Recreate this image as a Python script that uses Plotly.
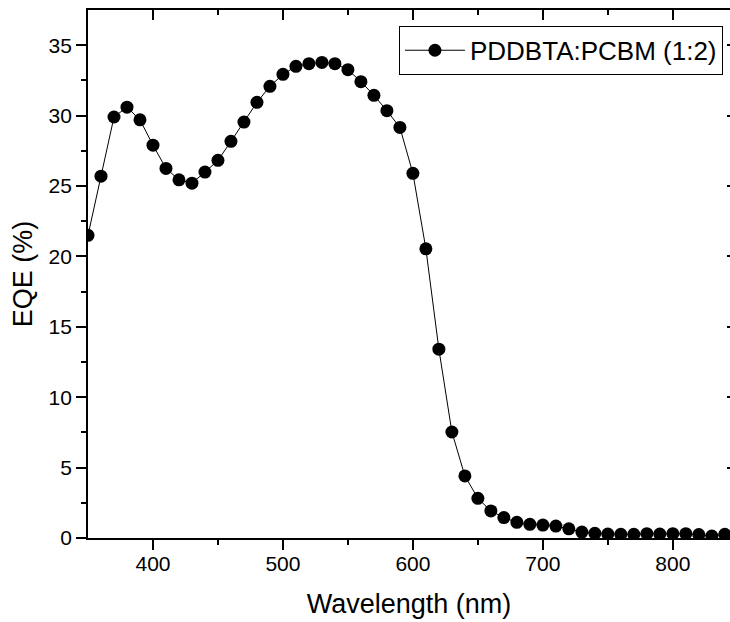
import plotly.graph_objects as go

wavelength = list(range(350, 850, 10))
eqe = [21.5, 25.7, 29.9, 30.6, 29.7, 27.9, 26.25, 25.44, 25.2, 25.99,
       26.82, 28.17, 29.54, 30.94, 32.08, 32.93, 33.5, 33.69, 33.78, 33.69,
       33.26, 32.41, 31.44, 30.35, 29.16, 25.9, 20.54, 13.41, 7.53, 4.41,
       2.82, 1.92, 1.45, 1.11, 0.97, 0.92, 0.85, 0.65, 0.42, 0.33,
       0.28, 0.26, 0.26, 0.31, 0.28, 0.31, 0.31, 0.24, 0.14, 0.26]
series_name = "PDDBTA:PCBM (1:2)"
x_title = "Wavelength (nm)"
y_title = "EQE (%)"
x_major = [400, 500, 600, 700, 800]
x_minor = [450, 550, 650, 750]
y_major = [0, 5, 10, 15, 20, 25, 30, 35]
y_minor = [2.5, 7.5, 12.5, 17.5, 22.5, 27.5, 32.5]

FONT = "Arial, Liberation Sans, sans-serif"

fig = go.Figure()
fig.add_trace(go.Scatter(
    x=wavelength, y=eqe, mode="lines+markers", name=series_name,
    line=dict(color="black", width=1),
    marker=dict(color="black", size=13, symbol="circle"),
))
# invisible trace to carry the mirrored (inside-tick) axes
fig.add_trace(go.Scatter(
    x=wavelength, y=eqe, mode="markers", xaxis="x2", yaxis="y2",
    marker=dict(opacity=0), showlegend=False, hoverinfo="skip",
))

axis_common = dict(showgrid=False, zeroline=False, linecolor="black",
                   linewidth=1.8, tickcolor="black", tickwidth=1.8)
minor_common = dict(ticklen=5, tickcolor="black", tickwidth=1.8)

fig.update_layout(
    width=730, height=622,
    margin=dict(l=88, r=0, t=10, b=84),
    plot_bgcolor="white", paper_bgcolor="white",
    font=dict(family=FONT, color="black"),
    xaxis=dict(range=[350, 844], tickvals=x_major,
               ticks="outside", ticklen=10, showline=True,
               tickfont=dict(size=21), ticklabelstandoff=-4,
               title=dict(text=x_title, font=dict(size=27), standoff=20),
               minor=dict(tickvals=x_minor, ticks="outside", **minor_common),
               **axis_common),
    yaxis=dict(range=[0, 37.5], tickvals=y_major,
               ticks="outside", ticklen=10, showline=True,
               tickfont=dict(size=21),
               title=dict(text=y_title, font=dict(size=27), standoff=8),
               minor=dict(tickvals=y_minor, ticks="outside", **minor_common),
               **axis_common),
    xaxis2=dict(overlaying="x", side="top", matches="x", anchor="y",
                tickvals=x_major, ticks="inside",
                ticklen=10, showticklabels=False, showline=True,
                minor=dict(tickvals=x_minor, ticks="inside", **minor_common),
                **axis_common),
    yaxis2=dict(overlaying="y", side="right", matches="y", anchor="x",
                tickvals=y_major, ticks="inside",
                ticklen=3, showticklabels=False, showline=False,
                **axis_common),
    legend=dict(x=0.989, y=0.97, xanchor="right", yanchor="top",
                bordercolor="black", borderwidth=1, bgcolor="white",
                font=dict(size=26), itemwidth=60),
    showlegend=True,
)

fig.write_html("out.html")
